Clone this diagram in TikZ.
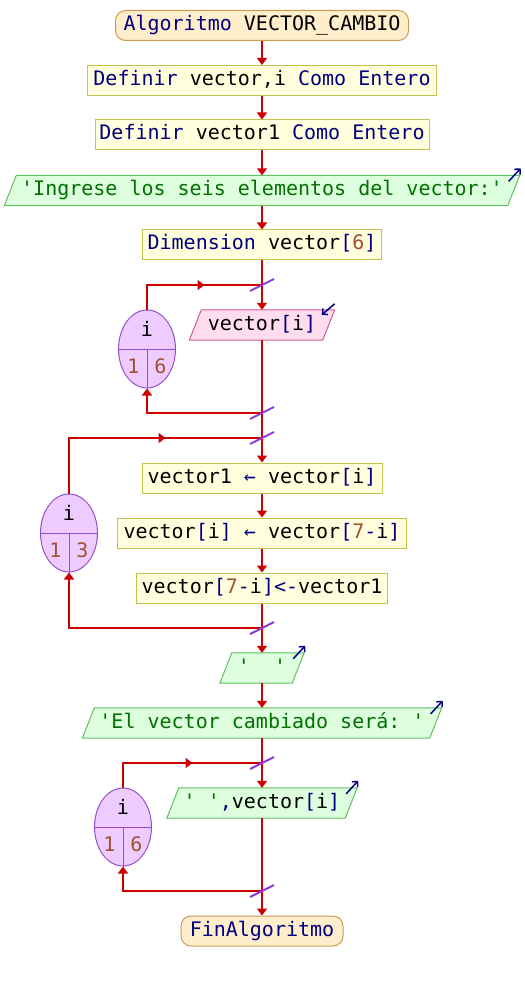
\documentclass[tikz,border=0pt]{standalone}
\usepackage{fontspec}
\setmonofont{DejaVu Sans Mono}
\usetikzlibrary{calc,arrows.meta,backgrounds,shapes.geometric}
\definecolor{kwc}{RGB}{0,0,128}
\definecolor{strc}{RGB}{0,112,0}
\definecolor{numc}{RGB}{160,82,45}
\definecolor{flowc}{RGB}{204,0,0}
\definecolor{procfill}{RGB}{255,255,221}
\definecolor{procdraw}{RGB}{195,195,80}
\definecolor{termfill}{RGB}{255,238,204}
\definecolor{termdraw}{RGB}{205,155,80}
\definecolor{outfill}{RGB}{221,255,221}
\definecolor{outdraw}{RGB}{100,190,100}
\definecolor{infill}{RGB}{255,221,238}
\definecolor{indraw}{RGB}{205,95,150}
\definecolor{loopfill}{RGB}{238,204,255}
\definecolor{loopdraw}{RGB}{150,80,205}
\definecolor{slashc}{RGB}{140,60,210}
\newcommand\kwd[1]{\textcolor{kwc}{#1}}
\newcommand\numv[1]{\textcolor{numc}{#1}}
\newcommand\strv[1]{\textcolor{strc}{#1}}
\begin{document}
\begin{tikzpicture}[x=1pt,y=-1pt,
  every node/.style={font=\ttfamily\fontsize{20}{24}\selectfont, text height=14pt, text depth=4pt, inner sep=0pt},
  procbox/.style={draw=procdraw, fill=procfill, line width=1pt, minimum height=30pt},
  termbox/.style={draw=termdraw, fill=termfill, line width=1pt, minimum height=30pt, rounded corners=10pt},
  paratxt/.style={minimum height=30pt},
  outpara/.style={draw=outdraw, fill=outfill, line width=1pt},
  inpara/.style={draw=indraw, fill=infill, line width=1pt},
  loopell/.style={ellipse, draw=loopdraw, fill=loopfill, line width=1pt, minimum width=57pt, minimum height=78pt},
  flowline/.style={draw=flowc, line width=2pt},
  flowarrow/.style={flowline, -{Triangle[length=7pt,width=10pt]}},
  slashmark/.style={draw=slashc, line width=2pt},
  ioarrow/.style={draw=kwc, line width=1.5pt, -{Straight Barb[length=4pt,width=8pt]}},
]
\useasboundingbox (0,0) rectangle (524,981);

% main nodes
\node[termbox, minimum width=293pt] (start) at (262,25.5) {\kwd{Algoritmo} VECTOR\_CAMBIO};
\node[procbox, minimum width=349pt] (b1) at (262,80.5) {\kwd{Definir} vector,i \kwd{Como Entero}};
\node[procbox, minimum width=334pt] (b2) at (262,135) {\kwd{Definir} vector1 \kwd{Como Entero}};
\node[paratxt, minimum width=503pt] (p1) at (262,190.5) {\strv{'Ingrese los seis elementos del vector:'}};
\node[procbox, minimum width=239pt] (b3) at (262,245) {\kwd{Dimension} vector\kwd{[}\numv{6}\kwd{]}};
\node[paratxt, minimum width=133pt] (pin) at (262,325) {vector\kwd{[}i\kwd{]}};
\node[procbox, minimum width=240pt] (b4) at (262,478) {vector1 \kwd{←} vector\kwd{[}i\kwd{]}};
\node[procbox, minimum width=289pt] (b5) at (262,533) {vector\kwd{[}i\kwd{]} \kwd{←} vector\kwd{[}\numv{7}\kwd{-}i\kwd{]}};
\node[procbox, minimum width=251pt] (b6) at (262,588) {vector\kwd{[}\numv{7}\kwd{-}i\kwd{]<-}vector1};
\node[paratxt, minimum width=72pt] (psp) at (262,668) {\strv{'\ \ '}};
\node[paratxt, minimum width=347pt] (pel) at (262,723) {\strv{'El vector cambiado será:\ '}};
\node[paratxt, minimum width=178pt] (pvec) at (262,803) {\strv{'\ '}\kwd{,}vector\kwd{[}i\kwd{]}};
\node[termbox, minimum width=162pt] (end) at (262,931) {\kwd{FinAlgoritmo}};

% parallelogram shapes behind texts
\begin{scope}[on background layer]
\filldraw[outpara] ($(p1.south west)+(-6,0)$) -- ($(p1.north west)+(6,0)$) -- ($(p1.north east)+(6,0)$) -- ($(p1.south east)+(-6,0)$) -- cycle;
\filldraw[inpara] ($(pin.south west)+(-6,0)$) -- ($(pin.north west)+(6,0)$) -- ($(pin.north east)+(6,0)$) -- ($(pin.south east)+(-6,0)$) -- cycle;
\filldraw[outpara] ($(psp.south west)+(-6,0)$) -- ($(psp.north west)+(6,0)$) -- ($(psp.north east)+(6,0)$) -- ($(psp.south east)+(-6,0)$) -- cycle;
\filldraw[outpara] ($(pel.south west)+(-6,0)$) -- ($(pel.north west)+(6,0)$) -- ($(pel.north east)+(6,0)$) -- ($(pel.south east)+(-6,0)$) -- cycle;
\filldraw[outpara] ($(pvec.south west)+(-6,0)$) -- ($(pvec.north west)+(6,0)$) -- ($(pvec.north east)+(6,0)$) -- ($(pvec.south east)+(-6,0)$) -- cycle;
\end{scope}

% io arrows
\draw[ioarrow] ($(p1.north east)+(-5,6)$) -- ($(p1.north east)+(7,-7)$);
\draw[ioarrow] ($(psp.north east)+(-5,6)$) -- ($(psp.north east)+(7,-7)$);
\draw[ioarrow] ($(pel.north east)+(-5,6)$) -- ($(pel.north east)+(7,-7)$);
\draw[ioarrow] ($(pvec.north east)+(-5,6)$) -- ($(pvec.north east)+(7,-7)$);
\draw[ioarrow] ($(pin.north east)+(6,-6)$) -- ($(pin.north east)+(-7,5)$);

% loop ellipses
\node[loopell] (e1) at (147,349) {};
\node[loopell] (e2) at (69,533) {};
\node[loopell] (e3) at (123,827) {};
\draw[draw=loopdraw, line width=1pt] (e1.west) -- (e1.east) (e1.center) -- (e1.south);
\draw[draw=loopdraw, line width=1pt] (e2.west) -- (e2.east) (e2.center) -- (e2.south);
\draw[draw=loopdraw, line width=1pt] (e3.west) -- (e3.east) (e3.center) -- (e3.south);
\node (e1v) at (147,331) {i};
\node (e1a) at (133.5,368) {\numv{1}};
\node (e1b) at (160.5,368) {\numv{6}};
\node (e2v) at (69,515) {i};
\node (e2a) at (55.5,552) {\numv{1}};
\node (e2b) at (82.5,552) {\numv{3}};
\node (e3v) at (123,809) {i};
\node (e3a) at (109.5,846) {\numv{1}};
\node (e3b) at (136.5,846) {\numv{6}};

% junctions
\coordinate (j1t) at (262,285);
\coordinate (j1b) at (262,413);
\coordinate (j2t) at (262,438);
\coordinate (j2b) at (262,628);
\coordinate (j3t) at (262,763);
\coordinate (j3b) at (262,891);

% main flow
\draw[flowarrow] (start.south) -- (b1.north);
\draw[flowarrow] (b1.south) -- (b2.north);
\draw[flowarrow] (b2.south) -- (p1.north);
\draw[flowarrow] (p1.south) -- (b3.north);
\draw[flowarrow] (b3.south) -- (pin.north);
\draw[flowarrow] (pin.south) -- (b4.north);
\draw[flowarrow] (b4.south) -- (b5.north);
\draw[flowarrow] (b5.south) -- (b6.north);
\draw[flowarrow] (b6.south) -- (psp.north);
\draw[flowarrow] (psp.south) -- (pel.north);
\draw[flowarrow] (pel.south) -- (pvec.north);
\draw[flowarrow] (pvec.south) -- (end.north);

% loops
\draw[flowline] (e1.north) |- (j1t);
\draw[flowarrow] (e1.north |- j1t) -- ($(e1.north |- j1t)!0.5!(j1t)$);
\draw[flowarrow] (j1b) -| (e1.south);
\draw[flowline] (e2.north) |- (j2t);
\draw[flowarrow] (e2.north |- j2t) -- ($(e2.north |- j2t)!0.5!(j2t)$);
\draw[flowarrow] (j2b) -| (e2.south);
\draw[flowline] (e3.north) |- (j3t);
\draw[flowarrow] (e3.north |- j3t) -- ($(e3.north |- j3t)!0.5!(j3t)$);
\draw[flowarrow] (j3b) -| (e3.south);

% slashes
\foreach \j in {j1t,j1b,j2t,j2b,j3t,j3b}
  \draw[slashmark] ($(\j)+(-12,6)$) -- ($(\j)+(12,-6)$);
\end{tikzpicture}
\end{document}
